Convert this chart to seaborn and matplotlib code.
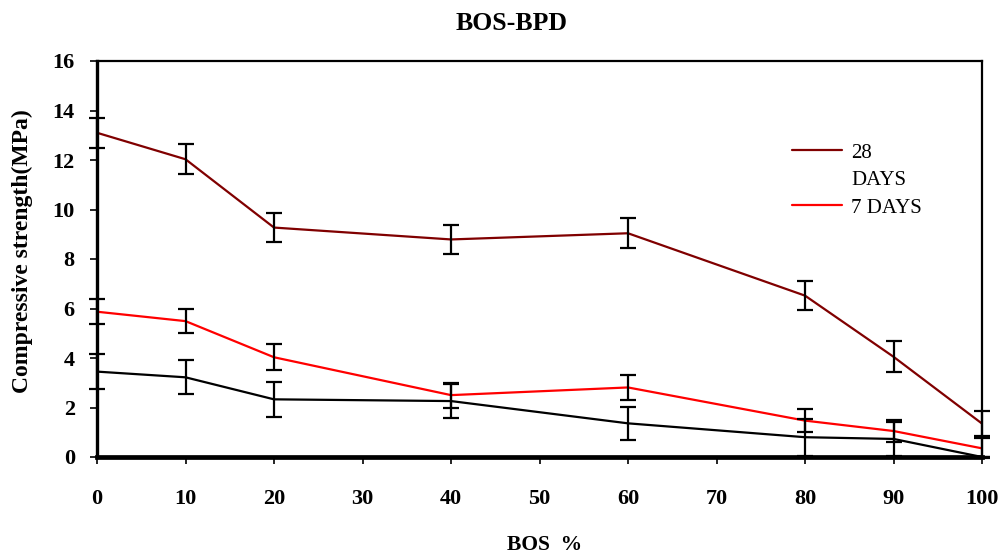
import numpy as np
import pandas as pd
import matplotlib
matplotlib.use("Agg")
import matplotlib.pyplot as plt
from matplotlib.lines import Line2D
import seaborn as sns

# BOS replacement level (%)
bos = [0, 10, 20, 40, 60, 80, 90, 100]

# Compressive strength (MPa) and standard deviations per curing age
strength_28 = [13.1, 12.03, 9.27, 8.79, 9.04, 6.52, 4.05, 1.35]
err_28 = [0.6, 0.6, 0.6, 0.6, 0.6, 0.6, 0.62, 0.5]
strength_7 = [5.87, 5.49, 4.03, 2.5, 2.81, 1.47, 1.05, 0.35]
err_7 = [0.5, 0.5, 0.52, 0.5, 0.52, 0.48, 0.45, 0.4]
strength_early = [3.45, 3.22, 2.33, 2.26, 1.36, 0.8, 0.73, 0.0]
err_early = [0.72, 0.68, 0.7, 0.7, 0.67, 0.75, 0.7, 0.0]

series_names = ["28 DAYS", "7 DAYS", "early"]
series_colors = ["#800000", "#FF0000", "#000000"]

x_ticks = [0, 10, 20, 30, 40, 50, 60, 70, 80, 90, 100]
y_ticks = [0, 2, 4, 6, 8, 10, 12, 14, 16]

df = pd.DataFrame({
    "BOS": bos * 3,
    "strength": strength_28 + strength_7 + strength_early,
    "err": err_28 + err_7 + err_early,
    "series": [s for s in series_names for _ in bos],
})

sns.set_theme(style="white")
plt.rcParams["font.family"] = ["Liberation Serif", "DejaVu Serif"]
plt.rcParams.update({
    "text.color": "black",
    "axes.labelcolor": "black",
    "xtick.color": "black",
    "ytick.color": "black",
})

fig = plt.figure(figsize=(10.06, 5.56), dpi=100)
ax = fig.add_axes([97 / 1006, 1 - 457 / 556, (982 - 97) / 1006, (457 - 61) / 556])

sns.lineplot(data=df, x="BOS", y="strength", hue="series",
             hue_order=series_names, palette=series_colors,
             errorbar=None, legend=False, linewidth=1.6, ax=ax)

for name in series_names:
    sub = df[df["series"] == name]
    ax.errorbar(sub["BOS"], sub["strength"], yerr=sub["err"], fmt="none",
                ecolor="black", elinewidth=1.6, capsize=5.5, capthick=1.6,
                zorder=5, clip_on=False)

ax.set_xlim(0, 100)
ax.set_ylim(0, 16)
ax.set_xticks(x_ticks)
ax.set_yticks(y_ticks)
ax.set_xticklabels([str(v) for v in x_ticks], fontweight="bold", fontsize=16)
ax.set_yticklabels([str(v) for v in y_ticks], fontweight="bold", fontsize=16)
ax.tick_params(axis="x", direction="out", length=5, width=1.2, pad=18,
               bottom=True)
ax.tick_params(axis="y", direction="out", length=5, width=1.2, pad=11,
               left=True)

for side, lw in (("left", 2.4), ("bottom", 3.4), ("top", 1.6), ("right", 1.6)):
    ax.spines[side].set_visible(True)
    ax.spines[side].set_color("black")
    ax.spines[side].set_linewidth(lw)

ax.set_xlabel("BOS  %", fontweight="bold", fontsize=15.5, va="center")
ax.xaxis.set_label_coords((545 - 97) / (982 - 97), -(545 - 457) / (457 - 61))
ax.set_ylabel("Compressive strength(MPa)", fontweight="bold", fontsize=17,
              va="center")
ax.yaxis.set_label_coords(-(97 - 22) / (982 - 97), (457 - 251) / (457 - 61))

fig.text(512 / 1006, 1 - 23 / 556, "BOS-BPD", fontweight="bold", fontsize=18.5,
         ha="center", va="center")

handles = [
    Line2D([], [], color=series_colors[0], linewidth=1.6),
    Line2D([], [], color="none"),
    Line2D([], [], color=series_colors[1], linewidth=1.6),
]
labels = ["28", "DAYS", "7 DAYS"]
ax.legend(handles, labels, loc="upper left",
          bbox_to_anchor=(792 / 1006, 1 - 143 / 556),
          bbox_transform=fig.transFigure, frameon=False, fontsize=15,
          handlelength=2.4, handletextpad=0.45, labelspacing=0.38,
          borderpad=0, borderaxespad=0)

fig.savefig("out.png", dpi=100)
